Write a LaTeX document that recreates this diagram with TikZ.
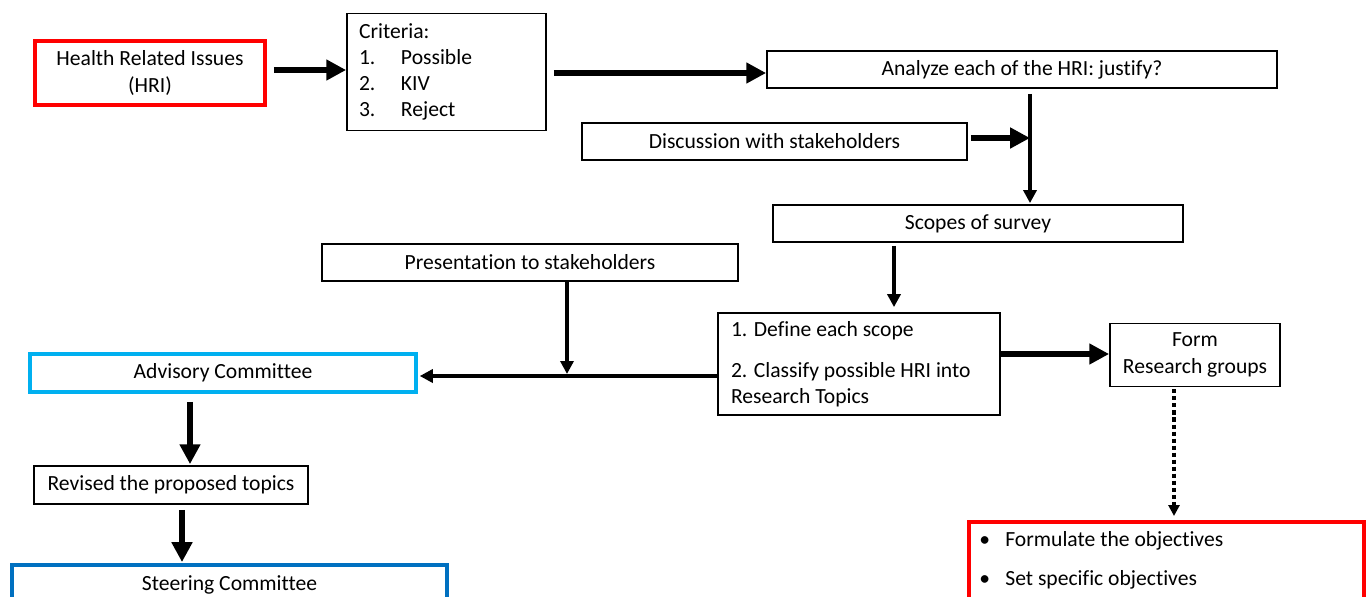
\documentclass[tikz,border=0pt]{standalone}
\usepackage{fontspec}
\setmainfont{Carlito}[Ligatures=CommonOff]
\usetikzlibrary{arrows.meta}
\newdimen\pxu \pxu=0.02cm
\definecolor{hrired}{HTML}{FF0000}
\definecolor{advcyan}{HTML}{00B0F0}
\definecolor{steerblue}{HTML}{0070C0}
\begin{document}
\begin{tikzpicture}[x=0.02cm,y=-0.02cm,
  font=\fontsize{12.3}{14.9}\selectfont,
  box/.style={draw, line width=1pt, inner sep=0pt, align=center},
  redbox/.style={box, draw=hrired, line width=2.2pt},
  cyanbox/.style={box, draw=advcyan, line width=2pt},
  bluebox/.style={box, draw=steerblue, line width=2.2pt},
  tarrow/.style={line width=3.2pt, -{Triangle[length=11.3pt, width=11.3pt]}},
  marrow/.style={line width=2.2pt, -{Triangle[length=7.4pt, width=7.4pt]}},
  darrow/.style={line width=2.2pt, dash pattern=on 2.3pt off 1.7pt, -{Triangle[length=6.2pt, width=6.2pt]}}
]
\useasboundingbox (0,0) rectangle (1370,596);
\clip (0,0) rectangle (1370,596);

% nodes
\node[redbox, minimum width=230\pxu, minimum height=64\pxu] (hri) at (150,73) {Health Related Issues\\(HRI)};
\node[box, minimum width=199\pxu, minimum height=117\pxu, text width=175\pxu, align=flush left] (crit) at (446.5,72)
  {Criteria:\\\makebox[42\pxu][l]{1.}Possible\\\makebox[42\pxu][l]{2.}KIV\\\makebox[42\pxu][l]{3.}Reject};
\node[box, minimum width=510\pxu, minimum height=37\pxu] (ana) at (1022,69.5) {Analyze each of the HRI: justify?};
\node[box, minimum width=385\pxu, minimum height=37\pxu] (disc) at (774.5,141.5) {Discussion with stakeholders};
\node[box, minimum width=410\pxu, minimum height=37\pxu] (scopes) at (978,223.5) {Scopes of survey};
\node[box, minimum width=416\pxu, minimum height=37\pxu] (pres) at (530,262.5) {Presentation to stakeholders};
\node[box, minimum width=282\pxu, minimum height=102\pxu, text width=256\pxu, align=flush left] (def) at (859,364)
  {1. Define each scope\\[8.3pt]2. Classify possible HRI into\\Research Topics};
\node[box, minimum width=170\pxu, minimum height=63\pxu] (form) at (1195,355) {Form\\Research groups};
\node[cyanbox, minimum width=386\pxu, minimum height=38\pxu] (adv) at (223,373) {Advisory Committee};
\node[box, minimum width=274\pxu, minimum height=38\pxu] (rev) at (171,485) {Revised the proposed topics};
\node[bluebox, minimum width=435\pxu, minimum height=40\pxu] (steer) at (229.5,585) {Steering Committee};
\node[redbox, anchor=north west, minimum width=395\pxu, minimum height=100\pxu] (obj) at (967,520) {};
\node[anchor=west, align=flush left, inner sep=0pt] (objt) at (979,560)
  {\makebox[26\pxu][l]{\textbullet}Formulate the objectives\\[7.2pt]\makebox[26\pxu][l]{\textbullet}Set specific objectives};

% helper coordinates
\coordinate (jA) at (1030,138);
\coordinate (xs) at (894,0);
\coordinate (yf) at (0,354);
\coordinate (xd) at (1174,0);
\coordinate (jP) at (567,376);
\coordinate (xa) at (190,0);
\coordinate (xr) at (182,0);
\coordinate (c2) at (0,73);

% connectors
\draw[tarrow, shorten <=7\pxu] (hri.east |- 0,70) -- (crit.west |- 0,70);
\draw[tarrow, shorten <=7\pxu] (crit.east |- c2) -- (ana.west |- c2);
\draw[marrow, shorten <=5\pxu, shorten >=1\pxu] (ana.south -| jA) -- (scopes.north -| jA);
\draw[tarrow, shorten <=3\pxu] (disc.east |- jA) -- (jA);
\draw[marrow, shorten <=3\pxu, shorten >=5\pxu] (scopes.south -| xs) -- (def.north -| xs);
\draw[tarrow] (def.east |- yf) -- (form.west |- yf);
\draw[darrow, shorten <=2\pxu, shorten >=4\pxu] (form.south -| xd) -- (obj.north -| xd);
\draw[marrow, shorten >=2\pxu] (def.west |- jP) -- (adv.east |- jP);
\draw[marrow, shorten >=2\pxu] (pres.south -| jP) -- (jP);
\draw[tarrow, shorten <=8\pxu, shorten >=1\pxu] (adv.south -| xa) -- (rev.north -| xa);
\draw[tarrow, shorten <=5\pxu, shorten >=1\pxu] (rev.south -| xr) -- (steer.north -| xr);
\end{tikzpicture}
\end{document}
